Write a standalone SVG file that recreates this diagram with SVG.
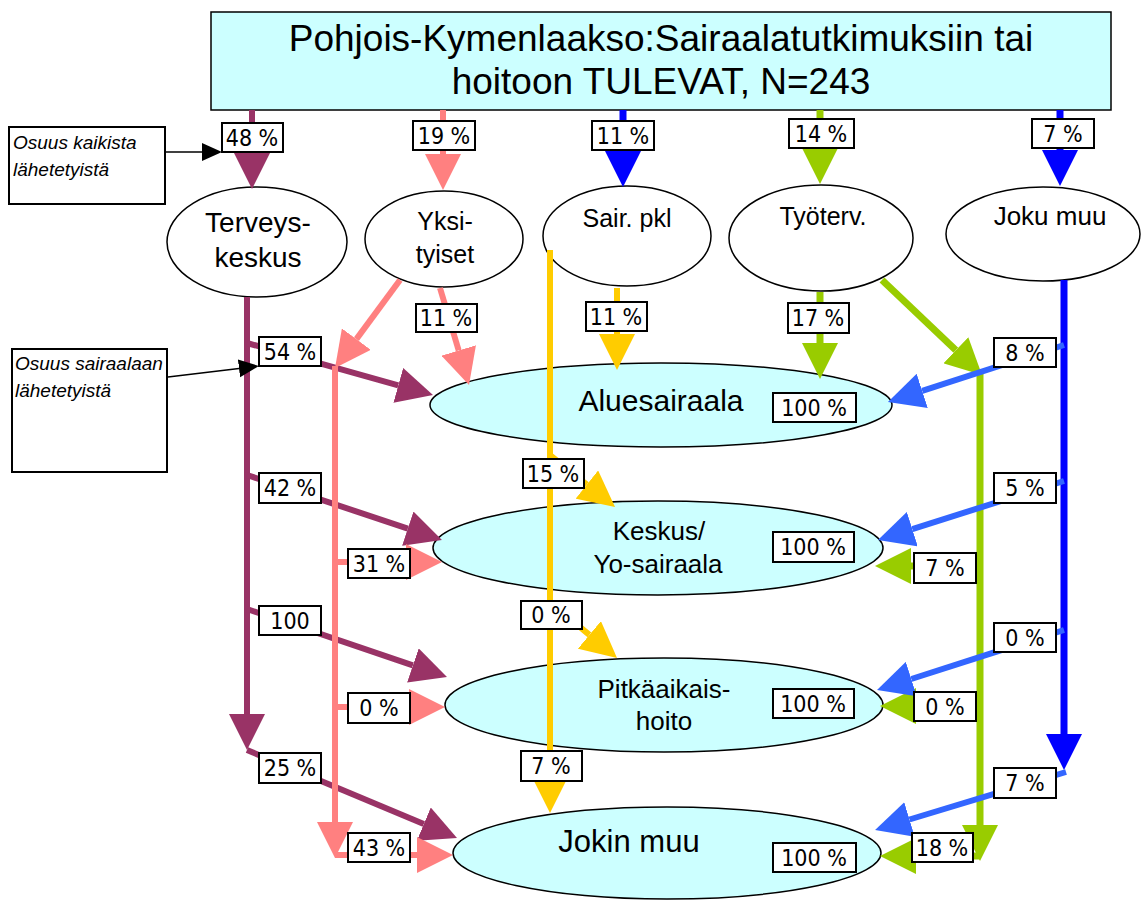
<svg xmlns="http://www.w3.org/2000/svg" width="1144" height="904" viewBox="0 0 1144 904">
<style>
.node{stroke:#000;stroke-width:1.5}
.src{fill:#fff}
.hosp{fill:#CCFFFF}
.t{font-family:"Liberation Sans",Arial,sans-serif;fill:#000;text-anchor:middle}
.lbl rect{fill:#fff;stroke:#000;stroke-width:2}
.lbl text,.pct text{font-family:"Liberation Sans Narrow","DejaVu Sans Condensed","Liberation Sans",sans-serif;font-size:23px;text-anchor:middle;fill:#000}
.pct rect{fill:#fff;stroke:#000;stroke-width:2}
.leg{font-family:"Liberation Sans Narrow","Liberation Sans",sans-serif;font-style:italic;font-size:19px;fill:#000}
.c{fill:none;stroke-linecap:butt}
.mr{stroke:#993366;stroke-width:6;marker-end:url(#aMr)}
.sa{stroke:#FF8080;stroke-width:6;marker-end:url(#aSa)}
.ye{stroke:#FFCC00;stroke-width:6;marker-end:url(#aYe)}
.gr{stroke:#99CC00;stroke-width:7;marker-end:url(#aGr)}
.bl{stroke:#0000FF;stroke-width:7;marker-end:url(#aBl)}
.lb{stroke:#3366FF;stroke-width:6;marker-end:url(#aLb)}
.bk{stroke:#000;stroke-width:1.5;marker-end:url(#aBk)}
</style>
<defs>
<marker id="aMr" markerUnits="userSpaceOnUse" viewBox="0 0 36 36" markerWidth="36" markerHeight="36" refX="0" refY="18" orient="auto"><path d="M0,0 L36,18 L0,36 z" fill="#993366"/></marker>
<marker id="aSa" markerUnits="userSpaceOnUse" viewBox="0 0 36 36" markerWidth="36" markerHeight="36" refX="0" refY="18" orient="auto"><path d="M0,0 L36,18 L0,36 z" fill="#FF8080"/></marker>
<marker id="aYe" markerUnits="userSpaceOnUse" viewBox="0 0 36 36" markerWidth="36" markerHeight="36" refX="0" refY="18" orient="auto"><path d="M0,0 L36,18 L0,36 z" fill="#FFCC00"/></marker>
<marker id="aGr" markerUnits="userSpaceOnUse" viewBox="0 0 36 36" markerWidth="36" markerHeight="36" refX="0" refY="18" orient="auto"><path d="M0,0 L36,18 L0,36 z" fill="#99CC00"/></marker>
<marker id="aBl" markerUnits="userSpaceOnUse" viewBox="0 0 36 36" markerWidth="36" markerHeight="36" refX="0" refY="18" orient="auto"><path d="M0,0 L36,18 L0,36 z" fill="#0000FF"/></marker>
<marker id="aLb" markerUnits="userSpaceOnUse" viewBox="0 0 36 36" markerWidth="36" markerHeight="36" refX="0" refY="18" orient="auto"><path d="M0,0 L36,18 L0,36 z" fill="#3366FF"/></marker>
<marker id="aBk" markerUnits="userSpaceOnUse" viewBox="0 0 20 20" markerWidth="20" markerHeight="20" refX="0" refY="10" orient="auto"><path d="M0,1 L20,10 L0,19 z" fill="#000"/></marker>
</defs>
<rect width="1144" height="904" fill="#fff"/>

<g id="title">
<rect class="node" x="211" y="12" width="900" height="98" fill="#CCFFFF"/>
<text class="t" x="661" y="51" font-size="37">Pohjois-Kymenlaakso:Sairaalatutkimuksiin tai</text>
<text class="t" x="661" y="94" font-size="37">hoitoon TULEVAT, N=243</text>
</g>

<g id="legend-kaikista">
<rect x="9" y="127" width="156" height="77" fill="#fff" stroke="#000" stroke-width="2"/>
<text class="leg" x="13" y="149">Osuus kaikista</text>
<text class="leg" x="13" y="176">lähetetyistä</text>
</g>
<g id="legend-sairaalaan">
<rect x="12" y="349" width="155" height="123" fill="#fff" stroke="#000" stroke-width="2"/>
<text class="leg" x="15" y="370">Osuus sairaalaan</text>
<text class="leg" x="15" y="397">lähetetyistä</text>
</g>

<g id="terveyskeskus">
<ellipse class="node src" cx="257" cy="242" rx="90" ry="55"/>
<text class="t" x="258" y="232" font-size="28">Terveys-</text>
<text class="t" x="258" y="267" font-size="28">keskus</text>
</g>
<g id="yksityiset">
<ellipse class="node src" cx="444" cy="239" rx="79" ry="48"/>
<text class="t" x="445" y="230" font-size="25">Yksi-</text>
<text class="t" x="445" y="263" font-size="25">tyiset</text>
</g>
<g id="sairpkl">
<ellipse class="node src" cx="627" cy="236" rx="84" ry="50"/>
<text class="t" x="627" y="227" font-size="25">Sair. pkl</text>
</g>
<g id="tyoterv">
<ellipse class="node src" cx="821" cy="238" rx="92" ry="53"/>
<text class="t" x="823" y="225" font-size="25">Työterv.</text>
</g>
<g id="jokumuu">
<ellipse class="node src" cx="1043" cy="234" rx="97" ry="47"/>
<text class="t" x="1050" y="225" font-size="26">Joku muu</text>
</g>

<g id="aluesairaala">
<ellipse class="node hosp" cx="661" cy="405" rx="231" ry="42"/>
<text class="t" x="661" y="411" font-size="30">Aluesairaala</text>
<g class="pct"><rect x="773" y="393" width="83" height="29"/><text x="814" y="416">100 %</text></g>
</g>
<g id="keskus">
<ellipse class="node hosp" cx="658" cy="548" rx="225" ry="47"/>
<text class="t" x="659" y="540" font-size="26">Keskus/</text>
<text class="t" x="658" y="573" font-size="26">Yo-sairaala</text>
<g class="pct"><rect x="773" y="532" width="81" height="30"/><text x="813" y="555">100 %</text></g>
</g>
<g id="pitkaaikais">
<ellipse class="node hosp" cx="664" cy="705" rx="219" ry="47"/>
<text class="t" x="664" y="698" font-size="26">Pitkäaikais-</text>
<text class="t" x="664" y="730" font-size="26">hoito</text>
<g class="pct"><rect x="773" y="689" width="81" height="29"/><text x="813" y="712">100 %</text></g>
</g>
<g id="jokinmuu">
<ellipse class="node hosp" cx="667" cy="853" rx="214" ry="46"/>
<text class="t" x="629" y="852" font-size="31">Jokin muu</text>
<g class="pct"><rect x="773" y="843" width="83" height="29"/><text x="814" y="866">100 %</text></g>
</g>

<g id="connectors" class="c">
<path class="mr" d="M252,110 L252,153"/>
<path class="mr" d="M247,297 L247,714"/>
<path class="mr" d="M247,343 L398.3,385.3"/>
<path class="mr" d="M247,475 L407.8,528.6"/>
<path class="mr" d="M247,609 L412.9,665.4"/>
<path class="mr" d="M247,750 L423.8,824.1"/>

<path class="sa" d="M443,110 L443,154"/>
<path class="sa" d="M400,280 L356.4,339.1"/>
<path class="sa" d="M335,366 L335,822"/>
<path class="sa" d="M440,288 L458.7,350.5"/>
<path class="sa" d="M335,562 L406,562"/>
<path class="sa" d="M335,707 L409,707"/>
<path class="sa" d="M335,855 L417,855"/>

<path class="bl" d="M623,110 L623,151"/>
<path class="ye" d="M550,250 L550,777"/>
<path class="ye" d="M550,455 L586.9,484.5"/>
<path class="ye" d="M550,602 L589.4,634.9"/>
<path class="ye" d="M617,288 L617,334"/>

<path class="gr" d="M820,110 L820,148"/>
<path class="gr" d="M820,292 L820,343"/>
<path class="gr" d="M882,280 L955.9,350.2"/>
<path class="gr" d="M980,370 L980,825"/>
<path class="gr" d="M980,566 L911,566"/>
<path class="gr" d="M980,706 L916,706"/>
<path class="gr" d="M980,856 L916,856"/>

<path class="bl" d="M1060,110 L1060,150"/>
<path class="bl" d="M1064,280 L1064,734"/>
<path class="lb" d="M1064,345 L922.2,390.9"/>
<path class="lb" d="M1064,481 L912.3,529.1"/>
<path class="lb" d="M1064,630 L911.3,679"/>
<path class="lb" d="M1066,772 L909.5,819.5"/>

<path class="bk" d="M165,152 L202,152"/>
<path class="bk" d="M168,377 L239,368.4"/>
</g>

<g id="connector-labels" class="lbl">
<rect x="222" y="123" width="61" height="29"/><text x="252" y="146">48 %</text>
<rect x="413" y="121" width="62" height="29"/><text x="444" y="144">19 %</text>
<rect x="592" y="121" width="62" height="29"/><text x="623" y="144">11 %</text>
<rect x="789" y="119" width="65" height="29"/><text x="821" y="142">14 %</text>
<rect x="1032" y="119" width="62" height="29"/><text x="1063" y="142">7 %</text>

<rect x="416" y="304" width="61" height="28"/><text x="446" y="326">11 %</text>
<rect x="586" y="302" width="61" height="29"/><text x="616" y="325">11 %</text>
<rect x="788" y="303" width="61" height="30"/><text x="818" y="326">17 %</text>

<rect x="259" y="337" width="62" height="29"/><text x="290" y="360">54 %</text>
<rect x="994" y="338" width="62" height="29"/><text x="1025" y="361">8 %</text>

<rect x="259" y="473" width="62" height="30"/><text x="290" y="496">42 %</text>
<rect x="523" y="459" width="61" height="29"/><text x="553" y="482">15 %</text>
<rect x="994" y="473" width="62" height="30"/><text x="1025" y="496">5 %</text>

<rect x="348" y="549" width="62" height="29"/><text x="379" y="572">31 %</text>
<rect x="914" y="553" width="62" height="30"/><text x="945" y="576">7 %</text>

<rect x="259" y="606" width="62" height="29"/><text x="290" y="629">100</text>
<rect x="521" y="601" width="61" height="28"/><text x="551" y="623">0 %</text>
<rect x="994" y="623" width="62" height="29"/><text x="1025" y="646">0 %</text>

<rect x="348" y="693" width="62" height="30"/><text x="379" y="716">0 %</text>
<rect x="914" y="692" width="62" height="29"/><text x="945" y="715">0 %</text>

<rect x="259" y="753" width="62" height="30"/><text x="290" y="776">25 %</text>
<rect x="521" y="751" width="61" height="30"/><text x="551" y="774">7 %</text>
<rect x="994" y="768" width="62" height="30"/><text x="1025" y="791">7 %</text>

<rect x="348" y="833" width="62" height="29"/><text x="379" y="856">43 %</text>
<rect x="912" y="833" width="61" height="29"/><text x="942" y="856">18 %</text>
</g>
</svg>
